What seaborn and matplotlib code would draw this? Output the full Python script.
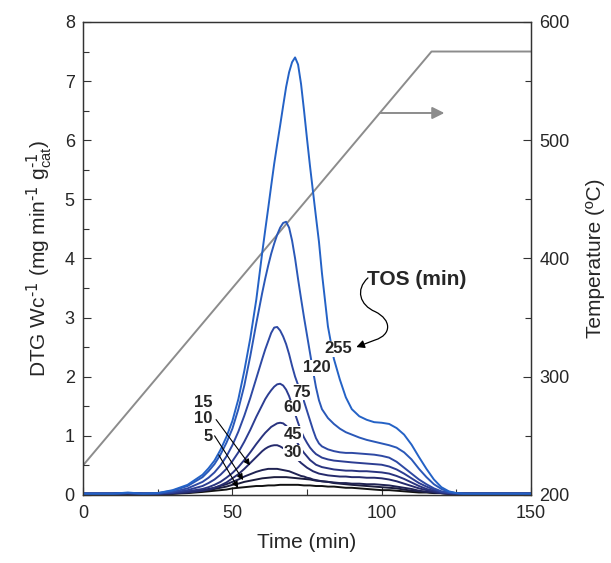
import numpy as np
import pandas as pd
import seaborn as sns
import matplotlib.pyplot as plt
from matplotlib.path import Path
from matplotlib.patches import FancyArrowPatch
from matplotlib.ticker import MultipleLocator

sns.set_style("ticks")
plt.rcParams['font.family'] = ['Liberation Sans', 'DejaVu Sans']
plt.rcParams['mathtext.default'] = 'regular'

# shared time grid (min), finer around the peaks
time_min = [0, 5, 10, 15, 20, 25, 30, 35, 40,
            42, 44, 46, 48, 50, 52, 54, 56, 58,
            60, 61, 62, 63, 64, 65, 66, 67, 68, 69, 70, 71, 72, 73, 74, 75, 76, 77, 78, 79, 80,
            82, 84, 86, 88, 90,
            92.5, 95, 97.5, 100, 102.5, 105, 107.5, 110, 112.5, 115, 117.5, 120, 122.5, 125, 127.5,
            130, 135, 140, 145, 150]

tos_labels = ["5", "10", "15", "30", "45", "60", "75", "120", "255"]

dtg_5 = [0.01, 0.01, 0.01, 0.02, 0.01, 0.02, 0.02, 0.03, 0.05,
         0.06, 0.07, 0.08, 0.09, 0.11, 0.12, 0.13, 0.14, 0.15,
         0.15, 0.155, 0.16, 0.16, 0.16, 0.165, 0.17, 0.17, 0.17, 0.17, 0.17, 0.17, 0.17, 0.165, 0.16, 0.16, 0.16, 0.155, 0.15, 0.15, 0.15,
         0.14, 0.14, 0.13, 0.12, 0.12,
         0.11, 0.10, 0.09, 0.08, 0.08, 0.07, 0.06, 0.05, 0.04, 0.04, 0.03, 0.03, 0.02, 0.02, 0.02,
         0.02, 0.02, 0.02, 0.02, 0.02]
dtg_10 = [0.02, 0.02, 0.02, 0.02, 0.02, 0.02, 0.02, 0.04, 0.07,
          0.08, 0.10, 0.12, 0.14, 0.17, 0.19, 0.22, 0.24, 0.26,
          0.28, 0.285, 0.29, 0.295, 0.30, 0.30, 0.30, 0.30, 0.30, 0.295, 0.29, 0.285, 0.28, 0.275, 0.27, 0.265, 0.26, 0.25, 0.24, 0.235, 0.23,
          0.22, 0.20, 0.19, 0.18, 0.17,
          0.16, 0.15, 0.14, 0.13, 0.12, 0.11, 0.09, 0.07, 0.06, 0.05, 0.04, 0.03, 0.02, 0.02, 0.02,
          0.02, 0.02, 0.02, 0.02, 0.02]
dtg_15 = [0.02, 0.02, 0.02, 0.03, 0.02, 0.02, 0.03, 0.05, 0.08,
          0.10, 0.12, 0.15, 0.18, 0.22, 0.26, 0.31, 0.35, 0.39,
          0.42, 0.43, 0.44, 0.44, 0.44, 0.44, 0.43, 0.42, 0.41, 0.40, 0.38, 0.36, 0.34, 0.32, 0.31, 0.29, 0.28, 0.26, 0.25, 0.24, 0.23,
          0.22, 0.21, 0.20, 0.20, 0.19,
          0.19, 0.18, 0.18, 0.17, 0.16, 0.14, 0.12, 0.10, 0.07, 0.05, 0.04, 0.03, 0.02, 0.02, 0.02,
          0.02, 0.02, 0.02, 0.02, 0.02]
dtg_30 = [0.02, 0.02, 0.02, 0.03, 0.02, 0.02, 0.03, 0.04, 0.07,
          0.09, 0.12, 0.16, 0.21, 0.28, 0.35, 0.44, 0.54, 0.64,
          0.74, 0.78, 0.81, 0.83, 0.84, 0.84, 0.82, 0.79, 0.76, 0.72, 0.68, 0.64, 0.59, 0.54, 0.50, 0.46, 0.43, 0.40, 0.38, 0.36, 0.35,
          0.33, 0.32, 0.31, 0.31, 0.30,
          0.30, 0.29, 0.29, 0.28, 0.26, 0.23, 0.19, 0.15, 0.11, 0.08, 0.05, 0.03, 0.02, 0.02, 0.02,
          0.02, 0.02, 0.02, 0.02, 0.02]
dtg_45 = [0.02, 0.02, 0.02, 0.03, 0.02, 0.02, 0.03, 0.06, 0.10,
          0.13, 0.17, 0.22, 0.29, 0.37, 0.47, 0.59, 0.72, 0.86,
          0.99, 1.05, 1.10, 1.15, 1.18, 1.21, 1.22, 1.21, 1.17, 1.11, 1.04, 0.95, 0.86, 0.78, 0.71, 0.65, 0.59, 0.55, 0.51, 0.49, 0.47,
          0.45, 0.43, 0.42, 0.41, 0.41,
          0.40, 0.40, 0.39, 0.38, 0.36, 0.32, 0.27, 0.21, 0.15, 0.10, 0.07, 0.04, 0.03, 0.02, 0.02,
          0.02, 0.02, 0.02, 0.02, 0.02]
dtg_60 = [0.02, 0.02, 0.02, 0.03, 0.02, 0.02, 0.04, 0.08, 0.15,
          0.20, 0.26, 0.34, 0.44, 0.57, 0.72, 0.90, 1.10, 1.32,
          1.52, 1.62, 1.70, 1.77, 1.83, 1.87, 1.88, 1.85, 1.78, 1.67, 1.52, 1.37, 1.22, 1.08, 0.97, 0.88, 0.80, 0.74, 0.69, 0.66, 0.63,
          0.60, 0.58, 0.57, 0.56, 0.55,
          0.54, 0.53, 0.52, 0.51, 0.48, 0.43, 0.36, 0.28, 0.20, 0.14, 0.09, 0.05, 0.03, 0.02, 0.02,
          0.02, 0.02, 0.02, 0.02, 0.02]
dtg_75 = [0.02, 0.02, 0.02, 0.03, 0.02, 0.02, 0.05, 0.11, 0.22,
          0.29, 0.38, 0.50, 0.65, 0.84, 1.07, 1.34, 1.64, 1.97,
          2.30, 2.46, 2.60, 2.74, 2.83, 2.84, 2.78, 2.68, 2.55, 2.38, 2.18, 2.00, 1.86, 1.73, 1.58, 1.42, 1.26, 1.10, 0.96, 0.87, 0.82,
          0.77, 0.74, 0.72, 0.71, 0.71,
          0.70, 0.69, 0.68, 0.66, 0.63, 0.56, 0.46, 0.36, 0.26, 0.18, 0.11, 0.06, 0.04, 0.03, 0.02,
          0.02, 0.02, 0.02, 0.02, 0.02]
dtg_120 = [0.02, 0.02, 0.02, 0.03, 0.02, 0.03, 0.07, 0.15, 0.30,
           0.40, 0.52, 0.68, 0.88, 1.12, 1.45, 1.85, 2.35, 2.90,
           3.42, 3.66, 3.88, 4.08, 4.25, 4.40, 4.52, 4.60, 4.62, 4.52, 4.30, 4.00, 3.65, 3.32, 3.00, 2.70, 2.40, 2.10, 1.82, 1.60, 1.45,
           1.30, 1.20, 1.12, 1.06, 1.02,
           0.97, 0.93, 0.90, 0.87, 0.84, 0.80, 0.72, 0.60, 0.44, 0.30, 0.18, 0.10, 0.05, 0.03, 0.02,
           0.02, 0.02, 0.02, 0.02, 0.02]
dtg_255 = [0.02, 0.02, 0.02, 0.04, 0.02, 0.03, 0.08, 0.17, 0.34,
           0.45, 0.58, 0.76, 0.98, 1.25, 1.62, 2.10, 2.65, 3.30,
           4.10, 4.48, 4.85, 5.23, 5.60, 5.93, 6.25, 6.58, 6.90, 7.15, 7.32, 7.40, 7.28, 6.95, 6.50, 6.02, 5.56, 5.13, 4.70, 4.28, 3.75,
           2.85, 2.30, 1.95, 1.65, 1.45,
           1.33, 1.27, 1.23, 1.22, 1.20, 1.13, 1.02, 0.85, 0.64, 0.44, 0.26, 0.13, 0.06, 0.03, 0.02,
           0.02, 0.02, 0.02, 0.02, 0.02]

# temperature programme (right axis)
temp_time = [0, 116.7, 150]
temp_c = [225, 575, 575]

palette = ["#121212", "#1b1c3c", "#1f2252", "#252a6c", "#29337f", "#2c3d92",
           "#2e49a4", "#2a58b8", "#2462c6"]

# curve label positions (time, dtg)
label_pos = {"255": (85.5, 2.47), "120": (78.3, 2.15), "75": (73.3, 1.74),
             "60": (70.3, 1.47), "45": (70.3, 1.02), "30": (70.3, 0.71)}
# labels with arrows: text position, arrow target
arrow_labels = {"15": ((40.2, 1.57), (55.9, 0.50)),
                "10": ((40.2, 1.30), (53.6, 0.25)),
                "5": ((41.9, 0.98), (51.9, 0.12))}

series = [dtg_5, dtg_10, dtg_15, dtg_30, dtg_45, dtg_60, dtg_75, dtg_120, dtg_255]
frames = []
for tos, vals in zip(tos_labels, series):
    frames.append(pd.DataFrame({"time": time_min, "dtg": vals, "tos": tos}))
df = pd.concat(frames, ignore_index=True)

fig = plt.figure(figsize=(6.11, 5.63), dpi=100)
ax = fig.add_axes([0.136, 0.121, 0.733, 0.840])
ax2 = ax.twinx()

sns.lineplot(data=pd.DataFrame({"time": temp_time, "temp": temp_c}), x="time", y="temp",
             ax=ax2, color="#8c8c8c", linewidth=1.4)
sns.lineplot(data=df, x="time", y="dtg", hue="tos", hue_order=tos_labels, palette=palette,
             ax=ax, linewidth=1.4, legend=False)

# put DTG axes above the temperature axes
ax.set_zorder(ax2.get_zorder() + 1)
ax.patch.set_visible(False)

ax.set_xlim(0, 150)
ax.set_ylim(0, 8)
ax2.set_ylim(200, 600)
ax.xaxis.set_major_locator(MultipleLocator(50))
ax.xaxis.set_minor_locator(MultipleLocator(25))
ax.yaxis.set_major_locator(MultipleLocator(1))
ax.yaxis.set_minor_locator(MultipleLocator(0.5))
ax2.yaxis.set_major_locator(MultipleLocator(100))
ax2.yaxis.set_minor_locator(MultipleLocator(50))

for a in (ax, ax2):
    a.tick_params(which="both", direction="in", labelsize=13, width=0.8, color="#333333")
    a.tick_params(which="major", length=6)
    a.tick_params(which="minor", length=4)
    for s in a.spines.values():
        s.set_visible(True)
        s.set_linewidth(0.9)
        s.set_color("#333333")
ax.tick_params(axis="y", pad=6)
ax2.tick_params(axis="y", pad=6)
ax.tick_params(axis="x", pad=7)

ax.set_xlabel("Time (min)", fontsize=15, labelpad=8)
ax.set_ylabel(r"DTG Wc$^{\text{-1}}$ (mg min$^{\text{-1}}$ g$_{cat}^{\text{-1}}$)", fontsize=15, labelpad=8)
ax2.set_ylabel("Temperature (ºC)", fontsize=15, labelpad=12)

# curve labels
for tos, (x, y) in label_pos.items():
    ax.text(x, y, tos, fontsize=12, fontweight="bold", ha="center", va="center", zorder=5,
            bbox=dict(facecolor="white", edgecolor="none", pad=0.5))
for tos, ((x, y), (tx, ty)) in arrow_labels.items():
    ax.annotate(tos, xy=(tx, ty), xytext=(x, y), fontsize=12, fontweight="bold",
                ha="center", va="center", zorder=5,
                arrowprops=dict(arrowstyle="-|>", color="black", lw=0.8, mutation_scale=9,
                                shrinkA=6, shrinkB=0))

ax.text(111.8, 3.64, "TOS (min)", fontsize=15, fontweight="bold", ha="center", va="center")

# wavy arrow from TOS label to the 255 curve
verts = [(95.4, 3.67), (91.1, 3.47), (92.7, 3.21), (97.8, 3.10),
         (103.4, 2.96), (103.4, 2.71), (97.8, 2.62), (91.5, 2.50)]
codes = [Path.MOVETO, Path.CURVE4, Path.CURVE4, Path.CURVE4,
         Path.CURVE4, Path.CURVE4, Path.CURVE4, Path.LINETO]
wavy = FancyArrowPatch(path=Path(verts, codes), arrowstyle="-|>", mutation_scale=12,
                       color="black", lw=0.9, transform=ax.transData)
ax.add_patch(wavy)

# grey arrow pointing to the temperature axis
ax2.annotate("", xy=(121, 523), xytext=(99.4, 523),
             arrowprops=dict(arrowstyle="-|>", color="#8c8c8c", lw=1.4, mutation_scale=18,
                             shrinkA=0, shrinkB=0))

fig.savefig("out.png", dpi=100)
